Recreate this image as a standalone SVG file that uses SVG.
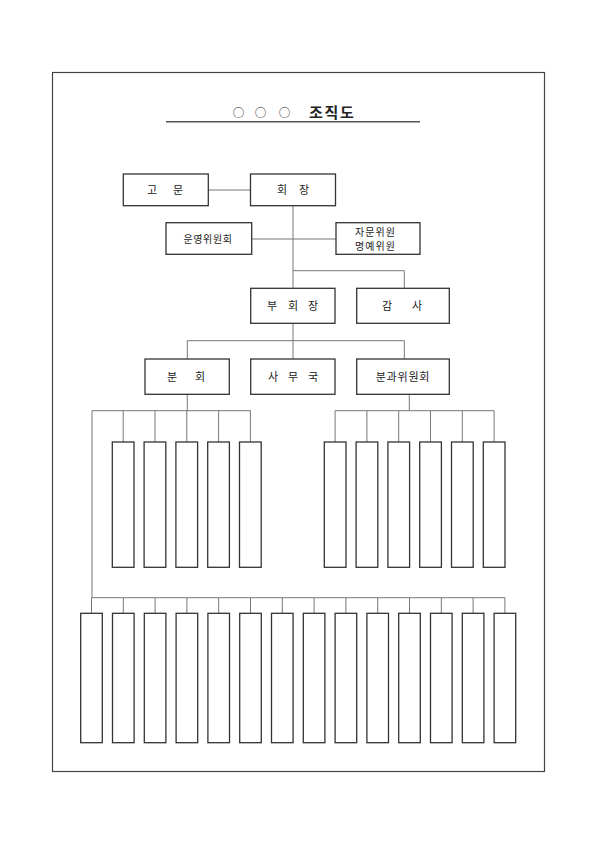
<svg xmlns="http://www.w3.org/2000/svg" width="595" height="842" viewBox="0 0 595 842">
<style>
.box{fill:#fff;stroke:#333;stroke-width:1.3}
.ln{fill:none;stroke:#777;stroke-width:1}
.t{font-family:"Noto Sans CJK KR","Noto Sans",sans-serif;font-size:11px;fill:#222;text-anchor:middle}
.s{font-size:10px}
.title{font-family:"Noto Sans CJK KR","Noto Sans",sans-serif;font-size:15px;fill:#222;text-anchor:middle}
</style>
<rect width="595" height="842" fill="#fff"/>
<rect x="52.5" y="72.5" width="492" height="699" fill="none" stroke="#444" stroke-width="1.2"/>
<g id="title">
<text class="title" x="238.5 260.5 284.5" y="117" font-size="11.5" style="font-size:11.5px">○○○</text>
<text class="title" x="316 331.5 347" y="118" font-weight="bold">조직도</text>
<line x1="166" y1="121.7" x2="420" y2="121.7" stroke="#555" stroke-width="1.5"/>
</g>
<g id="connectors">
<line class="ln" x1="208" y1="190" x2="250" y2="190"/>
<line class="ln" x1="293" y1="206" x2="293" y2="288"/>
<line class="ln" x1="252" y1="239" x2="336" y2="239"/>
<polyline class="ln" points="293,270.7 404.3,270.7 404.3,288"/>
<line class="ln" x1="293" y1="323" x2="293" y2="359"/>
<polyline class="ln" points="187.3,359 187.3,340.7 404.3,340.7 404.3,359"/>
<line class="ln" x1="187.3" y1="394" x2="187.3" y2="410.7"/>
<line class="ln" x1="409.3" y1="394" x2="409.3" y2="410.7"/>
<polyline class="ln" points="92,597.7 92,410.7 250.5,410.7"/>
<line class="ln" x1="123.2" y1="410.7" x2="123.2" y2="442"/>
<line class="ln" x1="155" y1="410.7" x2="155" y2="442"/>
<line class="ln" x1="186.8" y1="410.7" x2="186.8" y2="442"/>
<line class="ln" x1="218.6" y1="410.7" x2="218.6" y2="442"/>
<line class="ln" x1="250.4" y1="410.7" x2="250.4" y2="442"/>
<line class="ln" x1="335.1" y1="410.7" x2="494.1" y2="410.7"/>
<line class="ln" x1="335.1" y1="410.7" x2="335.1" y2="442"/>
<line class="ln" x1="366.9" y1="410.7" x2="366.9" y2="442"/>
<line class="ln" x1="398.7" y1="410.7" x2="398.7" y2="442"/>
<line class="ln" x1="430.5" y1="410.7" x2="430.5" y2="442"/>
<line class="ln" x1="462.3" y1="410.7" x2="462.3" y2="442"/>
<line class="ln" x1="494.1" y1="410.7" x2="494.1" y2="442"/>
<line class="ln" x1="91.5" y1="597.7" x2="504.9" y2="597.7"/>
<line class="ln" x1="91.5" y1="597.7" x2="91.5" y2="613.3"/>
<line class="ln" x1="123.3" y1="597.7" x2="123.3" y2="613.3"/>
<line class="ln" x1="155.1" y1="597.7" x2="155.1" y2="613.3"/>
<line class="ln" x1="186.9" y1="597.7" x2="186.9" y2="613.3"/>
<line class="ln" x1="218.7" y1="597.7" x2="218.7" y2="613.3"/>
<line class="ln" x1="250.5" y1="597.7" x2="250.5" y2="613.3"/>
<line class="ln" x1="282.3" y1="597.7" x2="282.3" y2="613.3"/>
<line class="ln" x1="314.1" y1="597.7" x2="314.1" y2="613.3"/>
<line class="ln" x1="345.9" y1="597.7" x2="345.9" y2="613.3"/>
<line class="ln" x1="377.7" y1="597.7" x2="377.7" y2="613.3"/>
<line class="ln" x1="409.5" y1="597.7" x2="409.5" y2="613.3"/>
<line class="ln" x1="441.3" y1="597.7" x2="441.3" y2="613.3"/>
<line class="ln" x1="473.1" y1="597.7" x2="473.1" y2="613.3"/>
<line class="ln" x1="504.9" y1="597.7" x2="504.9" y2="613.3"/>
</g>
<g id="n-gomun"><rect class="box" x="123.3" y="174" width="85" height="31.7"/><text class="t" x="152 178" y="194">고문</text></g>
<g id="n-hoejang"><rect class="box" x="250.5" y="174" width="85" height="31.7"/><text class="t" x="282 304" y="194">회장</text></g>
<g id="n-unyeong"><rect class="box" x="166" y="222.7" width="85.7" height="31.6"/><text class="t s" x="208" y="242.5" letter-spacing="0.6">운영위원회</text></g>
<g id="n-jamun"><rect class="box" x="336" y="222.7" width="84" height="31.6"/><text class="t s" x="375.5" y="236" letter-spacing="1">자문위원</text><text class="t s" x="375.5" y="249.5" letter-spacing="1">명예위원</text></g>
<g id="n-buhoejang"><rect class="box" x="250.7" y="288.3" width="84.3" height="35"/><text class="t" x="272 293 313" y="310">부회장</text></g>
<g id="n-gamsa"><rect class="box" x="356.7" y="288.3" width="92.6" height="35"/><text class="t" x="387 417" y="310">감사</text></g>
<g id="n-bunhoe"><rect class="box" x="145" y="359" width="84.3" height="35.3"/><text class="t" x="172 200" y="381">분회</text></g>
<g id="n-samuguk"><rect class="box" x="250.7" y="359" width="84.3" height="35.3"/><text class="t" x="273 293 313" y="381">사무국</text></g>
<g id="n-bungwa"><rect class="box" x="356.7" y="359" width="92.6" height="35.3"/><text class="t" x="403" y="381" letter-spacing="0.8">분과위원회</text></g>
<g id="n-upper-left">
<rect class="box" x="112.3" y="442" width="21.7" height="125.3"/>
<rect class="box" x="144.1" y="442" width="21.7" height="125.3"/>
<rect class="box" x="175.9" y="442" width="21.7" height="125.3"/>
<rect class="box" x="207.7" y="442" width="21.7" height="125.3"/>
<rect class="box" x="239.5" y="442" width="21.7" height="125.3"/>
</g>
<g id="n-upper-right">
<rect class="box" x="324.3" y="442" width="21.7" height="125.3"/>
<rect class="box" x="356.1" y="442" width="21.7" height="125.3"/>
<rect class="box" x="387.9" y="442" width="21.7" height="125.3"/>
<rect class="box" x="419.7" y="442" width="21.7" height="125.3"/>
<rect class="box" x="451.5" y="442" width="21.7" height="125.3"/>
<rect class="box" x="483.3" y="442" width="21.7" height="125.3"/>
</g>
<g id="n-lower">
<rect class="box" x="80.7" y="613.3" width="21.6" height="129.4"/>
<rect class="box" x="112.5" y="613.3" width="21.6" height="129.4"/>
<rect class="box" x="144.3" y="613.3" width="21.6" height="129.4"/>
<rect class="box" x="176.1" y="613.3" width="21.6" height="129.4"/>
<rect class="box" x="207.9" y="613.3" width="21.6" height="129.4"/>
<rect class="box" x="239.7" y="613.3" width="21.6" height="129.4"/>
<rect class="box" x="271.5" y="613.3" width="21.6" height="129.4"/>
<rect class="box" x="303.3" y="613.3" width="21.6" height="129.4"/>
<rect class="box" x="335.1" y="613.3" width="21.6" height="129.4"/>
<rect class="box" x="366.9" y="613.3" width="21.6" height="129.4"/>
<rect class="box" x="398.7" y="613.3" width="21.6" height="129.4"/>
<rect class="box" x="430.5" y="613.3" width="21.6" height="129.4"/>
<rect class="box" x="462.3" y="613.3" width="21.6" height="129.4"/>
<rect class="box" x="494.1" y="613.3" width="21.6" height="129.4"/>
</g>
</svg>
